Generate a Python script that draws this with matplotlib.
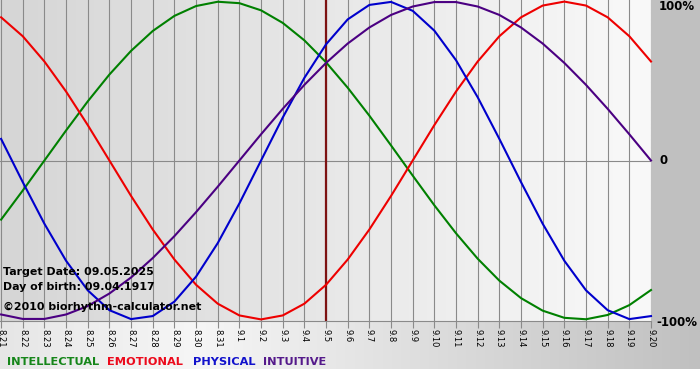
import numpy as np
import matplotlib
matplotlib.use("Agg")
import matplotlib.pyplot as plt
from matplotlib.colors import LinearSegmentedColormap

# Day labels (month.day), 08.21 .. 09.20
days = ["8.21", "8.22", "8.23", "8.24", "8.25", "8.26", "8.27", "8.28", "8.29", "8.30", "8.31",
        "9.1", "9.2", "9.3", "9.4", "9.5", "9.6", "9.7", "9.8", "9.9", "9.10",
        "9.11", "9.12", "9.13", "9.14", "9.15", "9.16", "9.17", "9.18", "9.19", "9.20"]
target_day = "9.5"

# Cycle values per day (-1 .. 1)
intellectual = [-0.372, -0.189, 0.0, 0.189, 0.372, 0.541, 0.690, 0.815, 0.910, 0.972, 0.999,
                0.990, 0.945, 0.866, 0.756, 0.618, 0.458, 0.282, 0.095, -0.095, -0.282,
                -0.458, -0.618, -0.756, -0.866, -0.945, -0.990, -0.999, -0.972, -0.910, -0.815]
emotional = [0.901, 0.782, 0.623, 0.434, 0.223, 0.0, -0.223, -0.434, -0.623, -0.782, -0.901,
             -0.975, -1.0, -0.975, -0.901, -0.782, -0.623, -0.434, -0.223, 0.0, 0.223,
             0.434, 0.623, 0.782, 0.901, 0.975, 1.0, 0.975, 0.901, 0.782, 0.623]
physical = [0.136, -0.136, -0.398, -0.631, -0.817, -0.942, -0.998, -0.979, -0.888, -0.731, -0.520,
            -0.270, 0.0, 0.270, 0.520, 0.731, 0.888, 0.979, 0.998, 0.942, 0.817,
            0.631, 0.398, 0.136, -0.136, -0.398, -0.631, -0.817, -0.942, -0.998, -0.979]
intuitive = [-0.969, -0.997, -0.997, -0.969, -0.916, -0.837, -0.736, -0.614, -0.476, -0.325, -0.165,
             0.0, 0.165, 0.325, 0.476, 0.614, 0.736, 0.837, 0.916, 0.969, 0.997,
             0.997, 0.969, 0.916, 0.837, 0.736, 0.614, 0.476, 0.325, 0.165, 0.0]

series = [("INTELLECTUAL", intellectual, "#008000", "#16861a"),
          ("EMOTIONAL", emotional, "#ee0000", "#ec0a1c"),
          ("PHYSICAL", physical, "#0000cc", "#1212cc"),
          ("INTUITIVE", intuitive, "#4b0082", "#551a8b")]

W, H = 700, 380
fig = plt.figure(figsize=(W / 100, H / 100), dpi=100, facecolor="white")

# frame background: light on the left, grey on the right
bg = fig.add_axes([0, 1 - 369 / H, 1, 369 / H])
bg.set_axis_off()
bg_cmap = LinearSegmentedColormap.from_list(
    "bg", [(0, "#e6e6e6"), (0.28, "#f6f6f6"), (1, "#c0c0c0")])
bg.imshow(np.linspace(0, 1, 256)[None, :], cmap=bg_cmap, aspect="auto",
          extent=[0, 1, 0, 1])
bg.set_xlim(0, 1); bg.set_ylim(0, 1)
# solid grey margin right of the plot
bg.axvspan(651 / W, 1, ymin=1 - 321 / 369, ymax=1, color="#c0c0c0", zorder=2)

x = np.arange(len(days))
ax = fig.add_axes([0, 1 - 321 / H, 651 / W, 321 / H])
ax.set_xlim(-0.05, len(days) - 1)
ax.set_ylim(-1.01, 1.01)

# plot area gradient
plot_cmap = LinearSegmentedColormap.from_list("plot", ["#d6d6d6", "#f9f9f9"])
ax.imshow(np.linspace(0, 1, 256)[None, :], cmap=plot_cmap, aspect="auto",
          extent=[-0.05, len(days) - 1, -1.01, 1.01], zorder=0)

for xi in x:
    ax.axvline(xi, color="#8a8a8a", lw=0.8, zorder=1)
ax.axhline(0, color="#8a8a8a", lw=0.8, zorder=1)
ax.axvline(days.index(target_day), color="#7d1212", lw=1.6, zorder=2)

for name, vals, color, _ in series:
    ax.plot(x, vals, color=color, lw=1.5, zorder=3, clip_on=False)

for side in ["top", "left", "right"]:
    ax.spines[side].set_visible(False)
ax.spines["bottom"].set_color("#8a8a8a")
ax.spines["bottom"].set_linewidth(0.8)
ax.set_yticks([])
ax.set_xticks(x)
ax.set_xticklabels(days, rotation=-90, fontsize=6, va="top", ha="center")
ax.tick_params(axis="x", length=5, width=0.8, color="#8a8a8a", pad=1)

# right-hand scale labels
fig.text(659 / W, 1 - 7 / H, "100%", fontsize=8.5, fontweight="bold", va="center")
fig.text(659 / W, 1 - 161 / H, "0", fontsize=8.5, fontweight="bold", va="center")
fig.text(656 / W, 1 - 323 / H, "-100%", fontsize=8.5, fontweight="bold", va="center")

# info text
info_kw = dict(fontsize=7.9, fontweight="bold", va="center", color="black")
fig.text(3 / W, 1 - 272 / H, "Target Date: 09.05.2025", **info_kw)
fig.text(3 / W, 1 - 287 / H, "Day of birth: 09.04.1917", **info_kw)
fig.text(3 / W, 1 - 307 / H, "\u00a92010 biorhythm-calculator.net", **info_kw)

# legend words
legend_x = [7, 107, 193, 263]
for lx, (name, _, _, lcolor) in zip(legend_x, series):
    fig.text(lx / W, 1 - 362 / H, name, fontsize=8.2, fontweight="bold",
             color=lcolor, va="center")

fig.savefig("out.png", dpi=100, facecolor="white")
